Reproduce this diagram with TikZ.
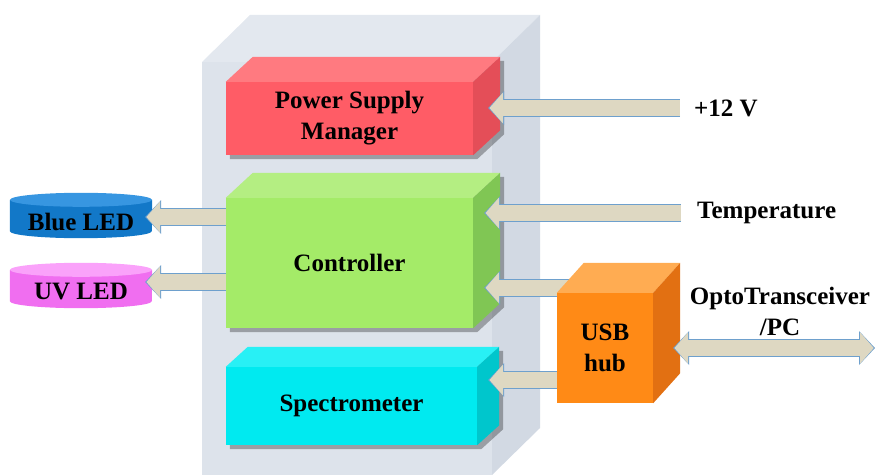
\documentclass[tikz,border=0pt]{standalone}
\usepackage{fontspec}
\setmainfont{Liberation Serif}
\usepackage{tikz}
\usetikzlibrary{arrows.meta, positioning}

\definecolor{encfront}{RGB}{221,227,235}
\definecolor{enctop}{RGB}{227,232,239}
\definecolor{encside}{RGB}{210,217,227}
\definecolor{frontpsm}{RGB}{255,92,102}
\definecolor{toppsm}{RGB}{255,122,128}
\definecolor{sidepsm}{RGB}{228,78,88}
\definecolor{frontctl}{RGB}{164,235,104}
\definecolor{topctl}{RGB}{180,238,130}
\definecolor{sidectl}{RGB}{128,198,84}
\definecolor{frontspc}{RGB}{0,234,240}
\definecolor{topspc}{RGB}{40,240,245}
\definecolor{sidespc}{RGB}{0,198,204}
\definecolor{frontusb}{RGB}{255,138,22}
\definecolor{topusb}{RGB}{255,172,82}
\definecolor{sideusb}{RGB}{226,112,18}
\definecolor{bluebody}{RGB}{18,120,200}
\definecolor{bluetop}{RGB}{55,150,225}
\definecolor{uvbody}{RGB}{240,110,240}
\definecolor{uvtop}{RGB}{250,162,250}
\definecolor{arrfill}{RGB}{222,216,194}
\definecolor{arredge}{RGB}{110,160,205}

\pgfdeclarelayer{back}
\pgfdeclarelayer{front}
\pgfsetlayers{back,main,front}

\begin{document}
\begin{tikzpicture}[
    x=1pt, y=1pt,
    txt/.style={font=\bfseries\fontsize{25}{31}\selectfont, align=center},
    blk/.style={txt, inner sep=0pt},
    led/.style={txt, inner sep=0pt, minimum width=142, minimum height=32},
    barrow/.style={line width=16pt, draw=arrfill, shorten >=1.3pt,
        -{Triangle[width=31pt, length=13.5pt, line width=0pt]},
        preaction={draw=arredge, line width=17.6pt, shorten >=0pt,
            -{Triangle[width=34pt, length=16pt, line width=0pt]}}},
    dbarrow/.style={line width=16pt, draw=arrfill, shorten >=1.3pt, shorten <=1.3pt,
        {Triangle[width=31pt, length=13.5pt, line width=0pt]}-{Triangle[width=31pt, length=13.5pt, line width=0pt]},
        preaction={draw=arredge, line width=17.6pt, shorten >=0pt, shorten <=0pt,
            {Triangle[width=34pt, length=16pt, line width=0pt]}-{Triangle[width=34pt, length=16pt, line width=0pt]}}}
]
\useasboundingbox (0,0) rectangle (875,475);

\begin{pgfonlayer}{back}
\fill[encfront] (202,0) rectangle (492,413);
\fill[enctop] (202,413) -- (250,460) -- (540,460) -- (492,413) -- cycle;
\fill[encside] (492,413) -- (540,460) -- (540,47) -- (492,0) -- cycle;
\end{pgfonlayer}

\node[blk, fill=frontpsm, minimum width=247, minimum height=73] (psm) at (349.5,356.5) {Power Supply\\Manager};
\node[blk, fill=frontctl, minimum width=247, minimum height=130] (ctl) at (349.5,212) {Controller};
\node[blk, fill=frontspc, minimum width=251, minimum height=78] (spc) at (351.5,69) {Spectrometer};

\foreach \nm/\dx/\dy in {psm/27/25, ctl/27/25, spc/22/20} {
    \fill[fill=top\nm] (\nm.north west) -- ++(\dx,\dy) -- ([shift={(\dx,\dy)}]\nm.north east) -- (\nm.north east) -- cycle;
    \fill[fill=side\nm] (\nm.north east) -- ++(\dx,\dy) -- ([shift={(\dx,\dy)}]\nm.south east) -- (\nm.south east) -- cycle;
    \begin{pgfonlayer}{back}
    \fill[black, opacity=.3] ([shift={(4,-4)}]\nm.north west) -- ([shift={(\dx+4,\dy-4)}]\nm.north west)
        -- ([shift={(\dx+4,\dy-4)}]\nm.north east) -- ([shift={(\dx+4,\dy-4)}]\nm.south east)
        -- ([shift={(4,-4)}]\nm.south east) -- ([shift={(4,-4)}]\nm.south west) -- cycle;
    \end{pgfonlayer}
}

\node[led] (blue) at (81,253) {Blue LED};
\node[led] (uv) at (81,183) {UV LED};

\begin{pgfonlayer}{back}
\foreach \nm/\c in {blue/blue, uv/uv} {
    \fill[fill=\c body] ([yshift=6pt]\nm.north west) -- ([yshift=7pt]\nm.south west)
        arc[start angle=180, end angle=360, x radius=71, y radius=7] -- ([yshift=6pt]\nm.north east) -- cycle;
    \fill[fill=\c top] ([yshift=6pt]\nm.north) ellipse [x radius=71, y radius=7];
}
\end{pgfonlayer}

\node[txt, anchor=west, inner sep=0pt] (v12) at (694,367) {+12 V};
\node[txt, anchor=west, inner sep=0pt] (temp) at (697,262) {Temperature};
\node[txt] (opto) at (780,164) {OptoTransceiver\\/PC};
\coordinate (pc) at (875,0);

\begin{pgfonlayer}{front}
\node[blk, fill=frontusb, minimum width=96, minimum height=110] (usb) at (605,127) {USB\\hub};
\fill[topusb] (usb.north west) -- ++(27,30) -- ([shift={(27,30)}]usb.north east) -- (usb.north east) -- cycle;
\fill[sideusb] (usb.north east) -- ++(27,30) -- ([shift={(27,30)}]usb.south east) -- (usb.south east) -- cycle;
\end{pgfonlayer}

\coordinate (psmin) at ([xshift=15pt]psm.east);
\coordinate (ctlin) at ([xshift=11pt]ctl.east);
\coordinate (spcin) at ([xshift=11pt]spc.east);
\coordinate (usbup) at ([yshift=5pt]usb.north);
\coordinate (usbdn) at ([yshift=-32pt]usb.center);
\coordinate (blueout) at ([shift={(-7,5)}]blue.east);
\coordinate (uvout) at ([shift={(-7,10)}]uv.east);

\draw[barrow] (ctl.west |- blueout) -- (blueout);
\draw[barrow] (ctl.west |- uvout) -- (uvout);
\draw[barrow] ([xshift=-14pt]v12.west) -- (v12.west -| psmin);
\draw[barrow] ([xshift=-16pt]temp.west) -- (temp.west -| ctlin);
\draw[barrow] (usbup) -- (usbup -| ctlin);
\draw[barrow] (usbdn) -- (usbdn -| spcin);

\begin{pgfonlayer}{front}
\draw[dbarrow] ([xshift=20pt]usb.east) -- (usb.east -| pc);
\end{pgfonlayer}

\end{tikzpicture}
\end{document}
